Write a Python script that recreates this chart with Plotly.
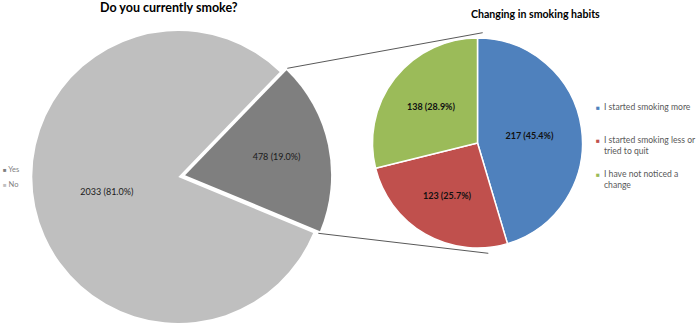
import plotly.graph_objects as go

# ---- data ----
smoke_labels = ["Yes", "No"]
smoke_values = [478, 2033]
smoke_colors = ["#7f7f7f", "#bfbfbf"]

habit_labels = ["I started smoking more",
                "I started smoking less or<br>tried to quit",
                "I have not noticed a<br>change"]
habit_values = [217, 123, 138]
habit_colors = ["#4f81bd", "#c0504d", "#9bbb59"]

W, H = 700, 325
FONT = "Lato, Calibri, Carlito, sans-serif"


def dom_x(a, b):
    return [a / W, b / W]


def dom_y(top, bottom):
    return [1 - bottom / H, 1 - top / H]


fig = go.Figure()

# Left pie: "No" slice (Yes transparent) at the original position
cx, cy, r = 178.3, 177.0, 146.0
rot = 44
fig.add_trace(go.Pie(
    labels=smoke_labels, values=smoke_values, sort=False, direction="clockwise",
    rotation=rot,
    marker=dict(colors=["rgba(0,0,0,0)", smoke_colors[1]], line=dict(width=0)),
    texttemplate=["", "%{value} (%{percent:.1%})"],
    textposition="inside", insidetextorientation="horizontal",
    textfont=dict(family=FONT, size=9, color="#1a1a1a"),
    domain=dict(x=dom_x(cx - r, cx + r), y=dom_y(cy - r, cy + r)),
    showlegend=False, hoverinfo="skip",
))
# "Yes" slice, exploded outwards
dx, dy = 6.8, -1.8
fig.add_trace(go.Pie(
    labels=smoke_labels, values=smoke_values, sort=False, direction="clockwise",
    rotation=rot,
    marker=dict(colors=[smoke_colors[0], "rgba(0,0,0,0)"], line=dict(width=0)),
    texttemplate=["%{value} (%{percent:.1%})", ""],
    textposition="inside", insidetextorientation="horizontal",
    textfont=dict(family=FONT, size=9, color="#1a1a1a"),
    domain=dict(x=dom_x(cx - r + dx, cx + r + dx), y=dom_y(cy - r + dy, cy + r + dy)),
    showlegend=False, hoverinfo="skip",
))

# Right pie
rcx, rcy, rr = 477.5, 143.0, 105.0
fig.add_trace(go.Pie(
    labels=habit_labels, values=habit_values, sort=False, direction="clockwise",
    rotation=0,
    marker=dict(colors=habit_colors, line=dict(color="white", width=1.5)),
    texttemplate="%{value} (%{percent:.1%})",
    textposition="inside", insidetextorientation="horizontal",
    textfont=dict(family=FONT, size=9, color="#111111", weight="bold"),
    domain=dict(x=dom_x(rcx - rr, rcx + rr), y=dom_y(rcy - rr, rcy + rr)),
    showlegend=False, hoverinfo="label+value+percent",
))

shapes = [
    dict(type="line", xref="paper", yref="paper",
         x0=287.3 / W, y0=1 - 68.3 / H, x1=482.7 / W, y1=1 - 32.7 / H,
         line=dict(color="#595959", width=1)),
    dict(type="line", xref="paper", yref="paper",
         x0=318.3 / W, y0=1 - 233.3 / H, x1=488.3 / W, y1=1 - 253.3 / H,
         line=dict(color="#595959", width=1)),
]

annotations = [
    dict(text="<b>Do you currently smoke?</b>", x=169 / W, y=1 - 7.5 / H,
         xref="paper", yref="paper", showarrow=False, xanchor="center", yanchor="middle",
         font=dict(family=FONT, size=12.5, color="#000000")),
    dict(text="<b>Changing in smoking habits</b>", x=535 / W, y=1 - 14 / H,
         xref="paper", yref="paper", showarrow=False, xanchor="center", yanchor="middle",
         font=dict(family=FONT, size=10.6, color="#000000")),
]

# left legend (built from the data lists)
left_leg_y = [169, 184]
for lbl, col, yy in zip(smoke_labels, smoke_colors, left_leg_y):
    annotations.append(dict(
        text=f"<span style='color:{col};font-size:6px'>■</span> {lbl}",
        x=1 / W, y=1 - yy / H, xref="paper", yref="paper", showarrow=False,
        xanchor="left", yanchor="middle",
        font=dict(family=FONT, size=7.5, color="#7f7f7f")))

# right legend
right_leg_y = [107, 140, 174]
for lbl, col, yy in zip(habit_labels, habit_colors, right_leg_y):
    annotations.append(dict(
        text="■", x=598 / W, y=1 - yy / H, xref="paper", yref="paper",
        showarrow=False, xanchor="center", yanchor="middle",
        font=dict(family=FONT, size=6.5, color=col)))
    annotations.append(dict(
        text=lbl, x=602 / W, y=1 - (yy - 7) / H, xref="paper", yref="paper",
        showarrow=False, xanchor="left", yanchor="top", align="left",
        font=dict(family=FONT, size=8.6, color="#595959")))

fig.update_layout(
    width=W, height=H,
    margin=dict(l=0, r=0, t=0, b=0, pad=0, autoexpand=False),
    paper_bgcolor="white", plot_bgcolor="white",
    showlegend=False,
    shapes=shapes, annotations=annotations,
)

fig.write_html(
    "out.html",
    config={"displayModeBar": False},
    post_script="document.body.style.margin='0';document.body.style.overflow='hidden';",
)
